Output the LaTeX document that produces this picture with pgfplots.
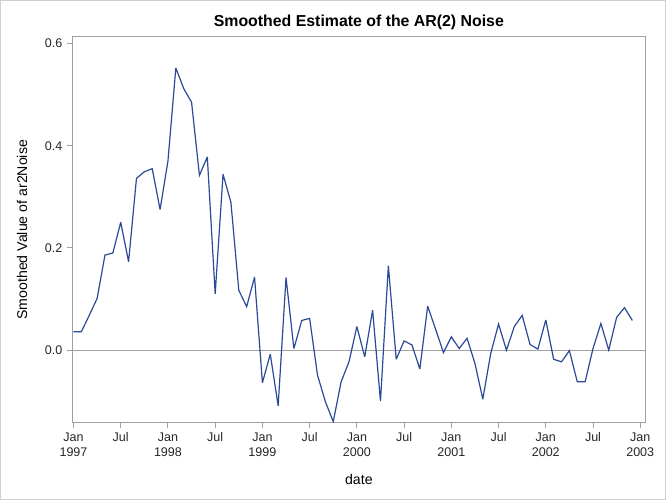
\documentclass[border=0pt]{standalone}
\usepackage{fontspec}
\setmainfont{Liberation Sans}
\usepackage{pgfplots}
\pgfplotsset{compat=1.18}
\definecolor{serie}{RGB}{42,74,151}
\definecolor{frame}{RGB}{160,160,160}
\definecolor{border}{RGB}{208,208,208}
\pgfplotstableread{
m v
0 0.036
1 0.036
2 0.068
3 0.101
4 0.186
5 0.190
6 0.250
7 0.173
8 0.336
9 0.349
10 0.355
11 0.275
12 0.370
13 0.552
14 0.512
15 0.485
16 0.342
17 0.378
18 0.110
19 0.344
20 0.289
21 0.117
22 0.085
23 0.143
24 -0.064
25 -0.008
26 -0.109
27 0.142
28 0.003
29 0.058
30 0.062
31 -0.049
32 -0.101
33 -0.140
34 -0.062
35 -0.023
36 0.046
37 -0.013
38 0.078
39 -0.100
40 0.165
41 -0.018
42 0.018
43 0.010
44 -0.037
45 0.086
46 0.041
47 -0.005
48 0.026
49 0.003
50 0.023
51 -0.026
52 -0.096
53 -0.007
54 0.051
55 0.000
56 0.046
57 0.068
58 0.011
59 0.002
60 0.059
61 -0.018
62 -0.023
63 -0.001
64 -0.062
65 -0.062
66 0.003
67 0.052
68 0.000
69 0.064
70 0.083
71 0.058
}\noise
\begin{document}
\begin{tikzpicture}
\path[use as bounding box] (0pt,0pt) rectangle (499.5pt,375pt);
\begin{axis}[
  at={(54pt,57.9pt)}, anchor=south west,
  scale only axis, width=430.3pt, height=289.5pt,
  xmin=-0.19, xmax=72.7, ymin=-0.1423, ymax=0.6131,
  axis line style={frame, line width=0.75pt},
  tick style={frame, line width=0.75pt},
  tick align=outside, major tick length=3.75pt,
  xtick pos=lower, ytick pos=left,
  xtick={0,6,...,72},
  xticklabels={Jan\\1997,Jul,Jan\\1998,Jul,Jan\\1999,Jul,Jan\\2000,Jul,Jan\\2001,Jul,Jan\\2002,Jul,Jan\\2003},
  xticklabel style={align=center, font=\fontsize{9.4}{11.2}\selectfont, text=black!85},
  ytick={0,0.2,0.4,0.6},
  yticklabel style={font=\fontsize{9.4}{11.2}\selectfont, text=black!85},
  /pgf/number format/.cd, fixed, fixed zerofill, precision=1, assume math mode=true,
  /pgfplots/.cd,
  xlabel={date},
  ylabel={Smoothed Value of ar2Noise},
  xlabel style={at={(axis description cs:0.5,-0.1611)}, anchor=base, font=\fontsize{10.6}{12}\selectfont},
  ylabel style={at={(axis description cs:-0.0871,0.5)}, anchor=center, font=\fontsize{10.6}{12}\selectfont},
]
\addplot[frame, line width=0.75pt, forget plot] coordinates {(-0.19,0) (72.7,0)};
\addplot[serie, line width=0.9pt, line join=miter, miter limit=4] table[x=m, y=v] {\noise};
\end{axis}
\node[anchor=base, font=\bfseries\fontsize{11.9}{14}\selectfont] at (269.15pt,355pt) {Smoothed Estimate of the AR(2) Noise};
\draw[border, line width=0.75pt] (0.375pt,0.375pt) rectangle (499.125pt,374.625pt);
\end{tikzpicture}
\end{document}
